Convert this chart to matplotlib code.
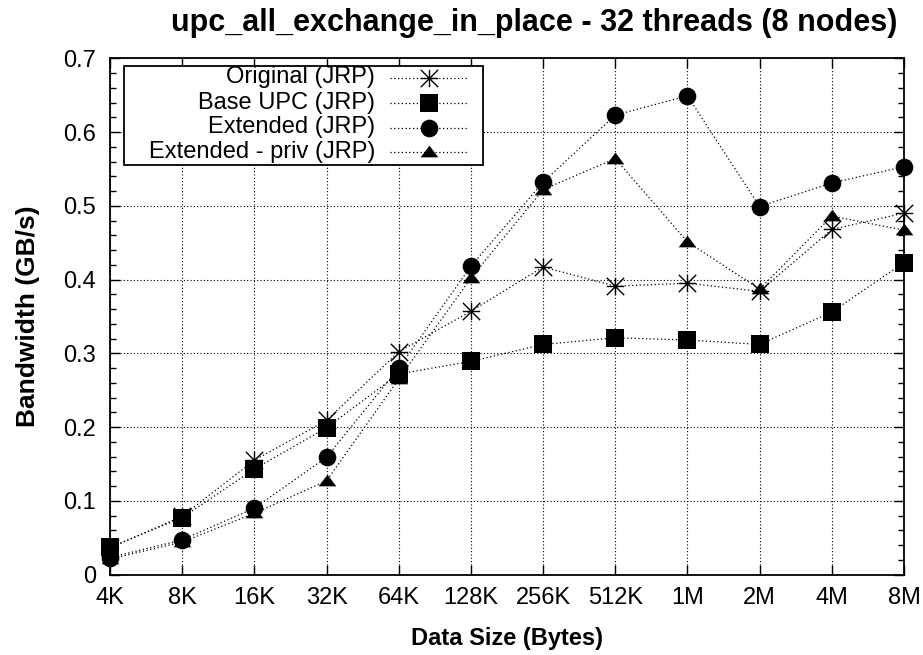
import matplotlib
matplotlib.use('Agg')
import matplotlib.pyplot as plt
from matplotlib.path import Path
from matplotlib.lines import Line2D
from matplotlib.patches import Rectangle
from matplotlib.ticker import MultipleLocator, FormatStrFormatter

plt.rcParams['font.family'] = ['Liberation Sans', 'DejaVu Sans']

# Bandwidth (GB/s) per message size
sizes = ['4K', '8K', '16K', '32K', '64K', '128K', '256K', '512K', '1M', '2M', '4M', '8M']
original = [0.036, 0.079, 0.155, 0.209, 0.302, 0.357, 0.417, 0.391, 0.395, 0.384, 0.468, 0.490]
base_upc = [0.037, 0.077, 0.143, 0.199, 0.272, 0.289, 0.312, 0.321, 0.318, 0.312, 0.356, 0.423]
extended = [0.023, 0.047, 0.090, 0.159, 0.280, 0.418, 0.532, 0.623, 0.649, 0.499, 0.531, 0.553]
extended_priv = [0.021, 0.044, 0.083, 0.127, 0.265, 0.402, 0.522, 0.564, 0.451, 0.387, 0.486, 0.467]
labels = ['Original (JRP)', 'Base UPC (JRP)', 'Extended (JRP)', 'Extended - priv (JRP)']

# gnuplot-style point shapes
asterisk = Path([(-1, 0), (1, 0), (0, -1), (0, 1), (-1, -1), (1, 1), (-1, 1), (1, -1)],
                [Path.MOVETO, Path.LINETO] * 4)
triangle = Path([(-1, -0.55), (1, -0.55), (0, 0.78), (-1, -0.55)],
                [Path.MOVETO, Path.LINETO, Path.LINETO, Path.CLOSEPOLY])

dots = (0, (1, 2))
styles = [
    dict(marker=asterisk, markersize=12.5, markerfacecolor='none', markeredgewidth=1.0),
    dict(marker='s', markersize=12.7, markeredgewidth=0),
    dict(marker='o', markersize=12.7, markeredgewidth=0),
    dict(marker=triangle, markersize=12.7, markeredgewidth=0),
]

fig = plt.figure(figsize=(9.23, 6.55), dpi=100)
ax = fig.add_axes([110 / 923, 1 - 574.5 / 655, 794 / 923, 516.2 / 655])

x = list(range(len(sizes)))
for vals, st in zip([original, base_upc, extended, extended_priv], styles):
    ax.plot(x, vals, color='black', linestyle=dots, linewidth=0.9,
            markeredgecolor='black', clip_on=False, zorder=3, **st)

ax.set_xlim(0, len(sizes) - 1)
ax.set_ylim(0, 0.7)
ax.set_xticks(x)
ax.set_xticklabels(sizes)
ax.yaxis.set_major_locator(MultipleLocator(0.1))
ax.yaxis.set_minor_locator(MultipleLocator(0.02))
ax.yaxis.set_major_formatter(FormatStrFormatter('%g'))

ax.tick_params(which='both', direction='in', top=True, right=True, width=1.0)
ax.tick_params(which='major', length=7, labelsize=17)
ax.tick_params(which='minor', length=4)
ax.tick_params(axis='x', which='major', pad=9)
ax.tick_params(axis='y', which='major', pad=10)
ax.tick_params(axis='x', which='minor', bottom=False, top=False)
for sp in ax.spines.values():
    sp.set_linewidth(1.3)

ax.grid(True, which='major', color='black', linestyle=dots, linewidth=0.8)
ax.set_axisbelow(True)

ax.set_xlabel('Data Size (Bytes)', fontsize=17, fontweight='bold')
ax.xaxis.set_label_coords(0.5, -0.101)
ax.set_ylabel('Bandwidth (GB/s)', fontsize=19, fontweight='bold')
ax.yaxis.set_label_coords(-0.088, 0.5)

fig.text(534 / 923, 1 - 30.7 / 655, 'upc_all_exchange_in_place - 32 threads (8 nodes)',
         ha='center', va='baseline', fontsize=22, fontweight='bold')

# key box in the upper left corner, text right-aligned with the sample to its right
def ax_x(px):
    return (px - 110) / 794

def ax_y(py):
    return (574.5 - py) / 516.2

ax.add_patch(Rectangle((ax_x(124), ax_y(164.5)), ax_x(482.5) - ax_x(124), ax_y(66) - ax_y(164.5),
                       transform=ax.transAxes, facecolor='white', edgecolor='black',
                       linewidth=1.3, zorder=4))
rows = [77.5, 102.7, 127.5, 152.3]
for label, st, py in zip(labels, styles, rows):
    ax.text(ax_x(375), ax_y(py), label, transform=ax.transAxes, ha='right', va='center',
            fontsize=17, zorder=5)
    ax.add_line(Line2D([ax_x(390), ax_x(467)], [ax_y(py), ax_y(py)], transform=ax.transAxes,
                       color='black', linestyle=dots, linewidth=0.9, zorder=5))
    ax.add_line(Line2D([ax_x(429)], [ax_y(py)], transform=ax.transAxes, linestyle='none',
                       color='black', markeredgecolor='black', zorder=6, **st))

fig.savefig('out.png', dpi=100)
